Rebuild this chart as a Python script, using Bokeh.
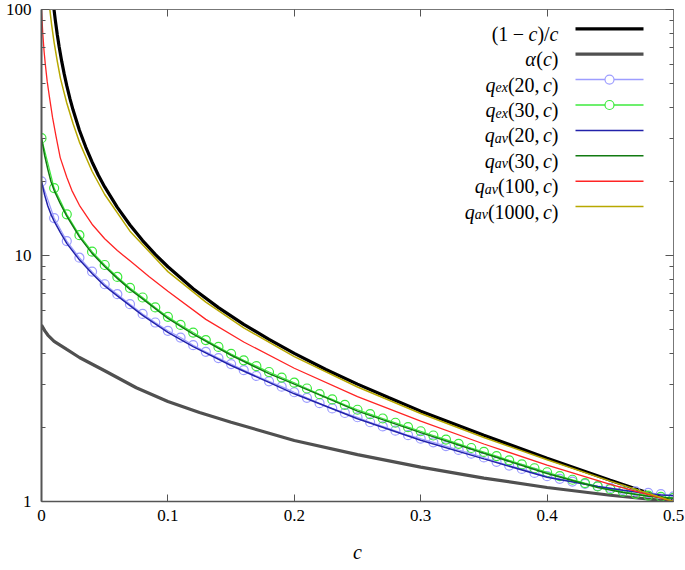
from bokeh.plotting import figure
from bokeh.models import Range1d, LinearAxis, LogAxis, FixedTicker, CustomJSTickFormatter, Label
from bokeh.embed import file_html
from bokeh.resources import INLINE

# ---------------- data ----------------
X_TICKS = [0, 0.1, 0.2, 0.3, 0.4, 0.5]
Y_TICKS = [1, 10, 100]
Y_MINOR = [2, 3, 4, 5, 6, 7, 8, 9, 20, 30, 40, 50, 60, 70, 80, 90]
X_LABEL = "c"

# (1-c)/c
C_BLACK = [0.009, 0.01, 0.011, 0.0125, 0.014, 0.016, 0.018, 0.02, 0.0225, 0.025, 0.03, 0.035,
           0.04, 0.045, 0.05, 0.06, 0.07, 0.08, 0.09, 0.1, 0.12, 0.14, 0.16, 0.18, 0.2, 0.225,
           0.25, 0.275, 0.3, 0.35, 0.4, 0.45, 0.5]
V_BLACK = [110.1, 99.0, 89.9, 79.0, 70.4, 61.5, 54.6, 49.0, 43.4, 39.0, 32.3, 27.6,
           24.0, 21.2, 19.0, 15.7, 13.3, 11.5, 10.1, 9.0, 7.33, 6.14, 5.25, 4.56, 4.0, 3.44,
           3.0, 2.64, 2.33, 1.86, 1.5, 1.22, 1.0]

# alpha(c)
C_ALPHA = [0, 0.0025, 0.005, 0.01, 0.02, 0.03, 0.05, 0.075, 0.1, 0.125, 0.15, 0.2, 0.25,
           0.3, 0.35, 0.4, 0.45, 0.5]
V_ALPHA = [5.22, 4.95, 4.75, 4.48, 4.15, 3.85, 3.4, 2.9, 2.55, 2.3, 2.1, 1.77, 1.55,
           1.38, 1.245, 1.14, 1.06, 1.0]

# q_ex points (every 0.01)
C_EX = [0.00, 0.01, 0.02, 0.03, 0.04, 0.05, 0.06, 0.07, 0.08, 0.09,
        0.10, 0.11, 0.12, 0.13, 0.14, 0.15, 0.16, 0.17, 0.18, 0.19,
        0.20, 0.21, 0.22, 0.23, 0.24, 0.25, 0.26, 0.27, 0.28, 0.29,
        0.30, 0.31, 0.32, 0.33, 0.34, 0.35, 0.36, 0.37, 0.38, 0.39,
        0.40, 0.41, 0.42, 0.43, 0.44, 0.45, 0.46, 0.47, 0.48, 0.49, 0.50]
V_EX20 = [20.0, 14.2, 11.45, 9.80, 8.60, 7.64, 6.96, 6.34, 5.79, 5.34,
          4.94, 4.64, 4.32, 4.06, 3.83, 3.62, 3.42, 3.24, 3.08, 2.93,
          2.78, 2.64, 2.51, 2.39, 2.29, 2.20, 2.10, 2.02, 1.94, 1.86,
          1.80, 1.74, 1.68, 1.62, 1.565, 1.51, 1.45, 1.40, 1.357, 1.307,
          1.267, 1.236, 1.205, 1.18, 1.155, 1.135, 1.115, 1.10, 1.085, 1.072, 1.05]
V_EX30 = [30.0, 18.8, 14.7, 12.1, 10.36, 9.15, 8.18, 7.38, 6.75, 6.15,
          5.63, 5.22, 4.86, 4.53, 4.25, 3.98, 3.75, 3.55, 3.36, 3.19,
          3.04, 2.88, 2.73, 2.60, 2.47, 2.36, 2.265, 2.175, 2.09, 2.005,
          1.93, 1.855, 1.785, 1.715, 1.65, 1.59, 1.53, 1.47, 1.415, 1.365,
          1.315, 1.268, 1.226, 1.188, 1.152, 1.122, 1.096, 1.074, 1.057, 1.045, 1.035]

# q_av(20,c), q_av(30,c)
C_AV = [0, 0.0025, 0.005, 0.0075, 0.01, 0.015, 0.02, 0.03, 0.04, 0.05, 0.06, 0.07, 0.08,
        0.1, 0.12, 0.15, 0.18, 0.2, 0.25, 0.3, 0.35, 0.4, 0.44, 0.46, 0.48, 0.49, 0.5]
V_AV20 = [20.0, 17.6, 15.9, 14.7, 13.8, 12.4, 11.2, 9.6, 8.45, 7.52, 6.85, 6.25, 5.71,
          4.87, 4.26, 3.57, 3.05, 2.74, 2.17, 1.775, 1.49, 1.255, 1.15, 1.11, 1.075, 1.063, 1.057]
V_AV30 = [30.0, 25.5, 22.4, 20.0, 18.4, 16.2, 14.45, 11.9, 10.2, 9.02, 8.07, 7.28, 6.66,
          5.55, 4.79, 3.93, 3.31, 3.0, 2.33, 1.905, 1.57, 1.30, 1.14, 1.088, 1.05, 1.037, 1.03]

# q_av(100,c)
C_AV100 = [0, 0.001, 0.002, 0.003, 0.0045, 0.0063, 0.0087, 0.0115, 0.0148, 0.02, 0.024,
           0.03, 0.04, 0.05, 0.06, 0.07, 0.085, 0.1, 0.13, 0.16, 0.2, 0.25, 0.3, 0.35,
           0.4, 0.45, 0.5]
V_AV100 = [100.0, 80.0, 68.0, 60.0, 51.0, 44.0, 36.5, 30.5, 25.0, 20.8, 18.4,
           16.0, 13.4, 11.7, 10.47, 9.51, 8.22, 7.15, 5.50, 4.45, 3.48, 2.67, 2.12, 1.713,
           1.406, 1.173, 1.0]

# q_av(1000,c)
C_AV1000 = [0.005, 0.0066, 0.008, 0.01, 0.0125, 0.015, 0.0174, 0.02, 0.025, 0.03, 0.04,
            0.05, 0.07, 0.1, 0.13, 0.16, 0.2, 0.25, 0.3, 0.35, 0.4, 0.45, 0.5]
V_AV1000 = [123.0, 100.0, 86.8, 73.3, 61.6, 52.5, 46.9, 41.7, 34.3, 28.9, 22.0,
            17.7, 12.56, 8.6, 6.46, 5.08, 3.88, 2.92, 2.28, 1.82, 1.478, 1.21, 1.0]

# ---------------- layout ----------------
W, H = 685, 570
FL, FR, FT, FB = 41, 673, 9, 501        # frame edges in page pixels
XMIN, XMAX, YMIN, YMAX = 0.0, 0.5, 1.0, 100.0
FONT = "'Liberation Serif', 'Times New Roman', serif"
AXC = "#555555"

p = figure(width=W, height=H, output_backend="svg", toolbar_location=None,
           x_range=Range1d(XMIN, XMAX), y_range=Range1d(YMIN, YMAX), y_axis_type="log",
           min_border_left=FL, min_border_right=W - FR,
           min_border_top=FT, min_border_bottom=H - FB)
p.title.visible = False
p.outline_line_color = None
p.xgrid.visible = False
p.ygrid.visible = False
p.background_fill_color = "white"
p.border_fill_color = "white"

xt = FixedTicker(ticks=X_TICKS)
yt = FixedTicker(ticks=Y_TICKS, minor_ticks=Y_MINOR)

xa = p.xaxis[0]
xa.ticker = xt
xa.formatter = CustomJSTickFormatter(code="return (tick == 0) ? '0' : tick.toFixed(1);")
xa.axis_label = X_LABEL
xa.axis_label_text_font = FONT
xa.axis_label_text_font_style = "italic"
xa.axis_label_text_font_size = "20px"
xa.axis_label_text_color = "black"
xa.axis_label_standoff = 17
xa.major_label_standoff = 8
xa.major_label_text_font = FONT
xa.major_label_text_font_size = "17px"
xa.major_label_text_color = "black"
xa.axis_line_color = AXC
xa.axis_line_width = 1.5
xa.major_tick_in = 7
xa.major_tick_out = 0
xa.minor_tick_in = 0
xa.minor_tick_out = 0
xa.major_tick_line_color = AXC

ya = p.yaxis[0]
ya.ticker = yt
ya.formatter = CustomJSTickFormatter(code="return tick.toFixed(0);")
ya.major_label_standoff = 10
ya.major_label_text_font = FONT
ya.major_label_text_font_size = "17px"
ya.major_label_text_color = "black"
ya.axis_line_color = AXC
ya.axis_line_width = 2
ya.major_tick_in = 8
ya.major_tick_out = 0
ya.minor_tick_in = 4
ya.minor_tick_out = 0
ya.major_tick_line_color = AXC
ya.minor_tick_line_color = AXC

empty = CustomJSTickFormatter(code="return '';")
top = LinearAxis(ticker=xt, formatter=empty, major_label_text_font_size="0px",
                 major_label_standoff=0, major_tick_in=7, major_tick_out=0,
                 minor_tick_in=0, minor_tick_out=0, axis_line_color="#777777",
                 axis_line_width=1, major_tick_line_color=AXC)
right = LogAxis(ticker=yt, formatter=empty, major_label_text_font_size="0px",
                major_label_standoff=0, major_tick_in=8, major_tick_out=0,
                minor_tick_in=4, minor_tick_out=0, axis_line_color="#777777",
                axis_line_width=1, major_tick_line_color=AXC, minor_tick_line_color=AXC)
p.add_layout(top, "above")
p.add_layout(right, "right")

# ---------------- curves ----------------
COL = dict(black="black", alpha="#505050", ex20="#9d9dff", ex30="#3cea3c",
           av20="#2222aa", av30="#117a11", av100="#ff2424", av1000="#b8a800")

p.line(C_BLACK, V_BLACK, line_color=COL["black"], line_width=3.2)
p.line(C_ALPHA, V_ALPHA, line_color=COL["alpha"], line_width=3.2)
p.line(C_EX, V_EX20, line_color=COL["ex20"], line_width=1.2)
p.scatter(C_EX, V_EX20, marker="circle", size=9, fill_color=None,
          line_color=COL["ex20"], line_width=1.2)
p.line(C_EX, V_EX30, line_color=COL["ex30"], line_width=1.2)
p.scatter(C_EX, V_EX30, marker="circle", size=9, fill_color=None,
          line_color=COL["ex30"], line_width=1.2)
p.line(C_AV, V_AV20, line_color=COL["av20"], line_width=1.5)
p.line(C_AV, V_AV30, line_color=COL["av30"], line_width=1.5)
p.line(C_AV100, V_AV100, line_color=COL["av100"], line_width=1.3)
p.line(C_AV1000, V_AV1000, line_color=COL["av1000"], line_width=1.5)

# ---------------- helpers: page pixel -> data coordinates ----------------
def xd(px):
    return XMIN + (px - FL) / (FR - FL) * (XMAX - XMIN)

def yd(py):
    return 10 ** (2.0 * (FB - py) / (FB - FT))

# ---------------- legend (hand-built, math-like labels) ----------------
RW = {'(': .333, ')': .333, ',': .25, '/': .278, '\u2212': .564}
IW = {'c': .444, 'q': .5, 'e': .444, 'x': .444, 'a': .5, 'v': .444, '\u03b1': .55}

def tw(s, italic, size):
    tbl = IW if italic else RW
    return sum(tbl.get(ch, .5) for ch in s) * size

# (text, italic, subscript, gap-after in em)
LEGEND_ROWS = [
    [("(", 0, 0, 0), ("1", 0, 0, .222), ("\u2212", 0, 0, .222), ("c", 1, 0, 0), (")", 0, 0, 0),
     ("/", 0, 0, 0), ("c", 1, 0, 0)],
    [("\u03b1", 1, 0, 0), ("(", 0, 0, 0), ("c", 1, 0, 0), (")", 0, 0, 0)],
    [("q", 1, 0, 0), ("ex", 1, 1, 0), ("(20,", 0, 0, .167), ("c", 1, 0, 0), (")", 0, 0, 0)],
    [("q", 1, 0, 0), ("ex", 1, 1, 0), ("(30,", 0, 0, .167), ("c", 1, 0, 0), (")", 0, 0, 0)],
    [("q", 1, 0, 0), ("av", 1, 1, 0), ("(20,", 0, 0, .167), ("c", 1, 0, 0), (")", 0, 0, 0)],
    [("q", 1, 0, 0), ("av", 1, 1, 0), ("(30,", 0, 0, .167), ("c", 1, 0, 0), (")", 0, 0, 0)],
    [("q", 1, 0, 0), ("av", 1, 1, 0), ("(100,", 0, 0, .167), ("c", 1, 0, 0), (")", 0, 0, 0)],
    [("q", 1, 0, 0), ("av", 1, 1, 0), ("(1000,", 0, 0, .167), ("c", 1, 0, 0), (")", 0, 0, 0)],
]
LEGEND_STYLE = [("black", 3.2, False), ("alpha", 3.2, False), ("ex20", 1.5, True),
                ("ex30", 1.5, True), ("av20", 1.5, False), ("av30", 1.5, False),
                ("av100", 1.5, False), ("av1000", 1.5, False)]

ROW0, ROWSTEP = 28.3, 25.4
TEXT_RIGHT = 558
SEG_X0, SEG_X1, MARK_X = 575, 643, 609
FS, SFS = 20, 14

for i, (pieces, (key, lw, mark)) in enumerate(zip(LEGEND_ROWS, LEGEND_STYLE)):
    cy = ROW0 + i * ROWSTEP
    base = cy + 5
    total = 0.0
    for (t, it, sub, gap) in pieces:
        total += tw(t, it, SFS if sub else FS) + gap * FS
    x = TEXT_RIGHT - total
    for (t, it, sub, gap) in pieces:
        size = SFS if sub else FS
        yy = base + (3 if sub else 0)
        p.add_layout(Label(x=xd(x), y=yd(yy), text=t, text_font=FONT,
                           text_font_size=f"{size}px",
                           text_font_style="italic" if it else "normal",
                           text_color="black", text_align="left",
                           text_baseline="alphabetic"))
        x += tw(t, it, size) + gap * FS
    p.line([xd(SEG_X0), xd(SEG_X1)], [yd(cy), yd(cy)], line_color=COL[key], line_width=lw)
    if mark:
        p.scatter([xd(MARK_X)], [yd(cy)], marker="circle", size=9, fill_color="white",
                  line_color=COL[key], line_width=1.2)

open("out.html", "w").write(file_html(p, INLINE))
